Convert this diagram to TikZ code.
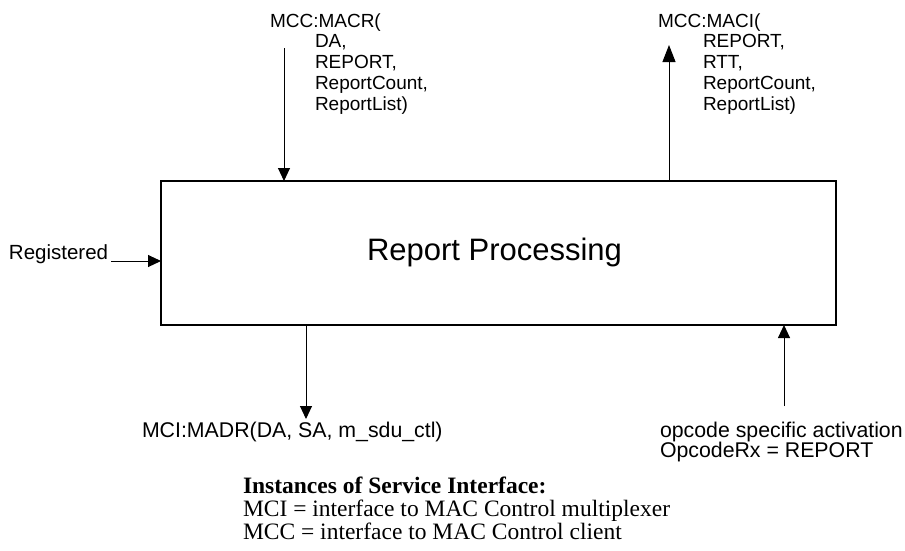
\documentclass[tikz,border=0pt]{standalone}
\usepackage{fontspec}
\setmainfont{Liberation Sans}
\newfontfamily\legendfont{Liberation Serif}
\usetikzlibrary{arrows.meta}
\tikzset{
  lbl/.style={inner sep=0pt, outer sep=0pt, anchor=base west},
  toplbl/.style={lbl, font=\fontsize{19}{21}\selectfont},
  sidelbl/.style={lbl, font=\fontsize{20.5}{22}\selectfont},
  botlbl/.style={lbl, font=\fontsize{21.3}{23}\selectfont},
  leglbl/.style={lbl, font=\legendfont\fontsize{23.5}{25}\selectfont},
  arr/.style={line width=1pt, -{Triangle[length=13pt,width=12pt]}},
  bigarr/.style={line width=1pt, -{Triangle[length=17pt,width=13pt]}},
  procbox/.style={draw, line width=2pt, inner sep=0pt, outer sep=0pt,
    minimum width=675pt, minimum height=144pt},
}
\begin{document}
\begin{tikzpicture}[x=1pt,y=-1pt]
\useasboundingbox (0,0) rectangle (905,550);
\node[procbox] (box) at (498.5,253) {};
\node[lbl, font=\fontsize{31}{33}\selectfont] (title) at (367,260) {Report Processing};

% top left label
\node[toplbl] (macr1) at (270,27) {MCC:MACR(};
\node[toplbl] (macr2) at (315,47.75) {DA,};
\node[toplbl] (macr3) at (315,68.5) {REPORT,};
\node[toplbl] (macr4) at (315,89.25) {ReportCount,};
\node[toplbl] (macr5) at (315,110) {ReportList)};
\coordinate (macrIn) at (284,48);
\draw[arr] (macrIn) -- (macrIn |- box.north);

% top right label
\node[toplbl] (maci1) at (658,27) {MCC:MACI(};
\node[toplbl] (maci2) at (703,47.75) {REPORT,};
\node[toplbl] (maci3) at (703,68.5) {RTT,};
\node[toplbl] (maci4) at (703,89.25) {ReportCount,};
\node[toplbl] (maci5) at (703,110) {ReportList)};
\coordinate (maciOut) at (669,45);
\draw[bigarr] (maciOut |- box.north) -- (maciOut);

% registered
\node[sidelbl] (reg) at (9,259) {Registered};
\coordinate (regIn) at (111,261);
\draw[arr] (regIn) -- (regIn -| box.west);

% bottom left
\coordinate (madrTip) at (306,419);
\draw[arr] (box.south -| madrTip) -- (madrTip);
\node[botlbl] (madr) at (142,437) {MCI:MADR(DA, SA, m\_sdu\_ctl)};

% bottom right
\coordinate (opIn) at (784,406);
\draw[arr] (opIn) -- (opIn |- box.south);
\node[botlbl] (op1) at (660,437) {opcode specific activation};
\node[botlbl] (op2) at (660,457) {OpcodeRx = REPORT};

% legend
\node[leglbl] (leg1) at (243,493) {\bfseries Instances of Service Interface:};
\node[leglbl] (leg2) at (243,516) {MCI = interface to MAC Control multiplexer};
\node[leglbl] (leg3) at (243,539) {MCC = interface to MAC Control client};
\end{tikzpicture}
\end{document}
